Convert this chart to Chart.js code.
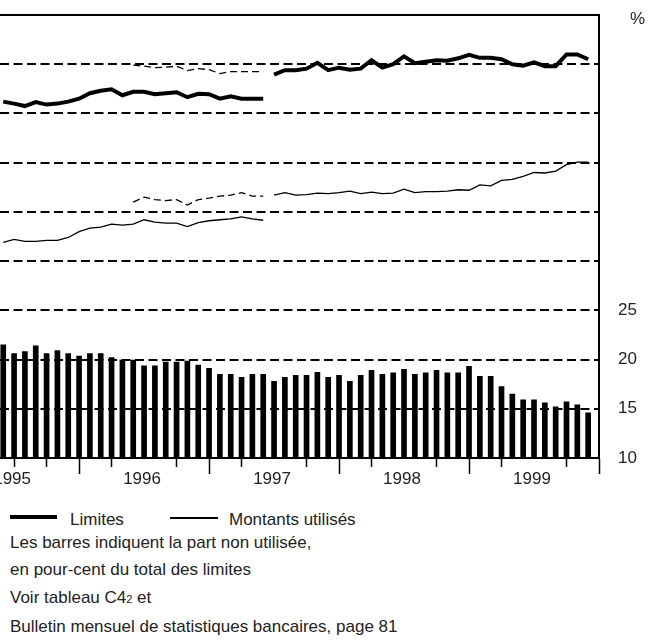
<!DOCTYPE html>
<html>
<head>
<meta charset="utf-8">
<script src="https://cdn.jsdelivr.net/npm/chart.js@4.4.1/dist/chart.umd.min.js"></script>
<style>
  body { margin: 0; background: #fff; font-family: "Liberation Sans", Arial, sans-serif; color: #222; }
  #page { position: relative; width: 664px; height: 642px; overflow: hidden; }
  #wrap { position: absolute; left: 0; top: 0; width: 664px; height: 490px; overflow: hidden; }
  #chart { position: absolute; left: -40px; top: 0; }
  .txt { position: absolute; font-size: 17px; line-height: 20px; white-space: nowrap; }
  .key { position: absolute; background: #000; }
</style>
</head>
<body>
<div id="page">
  <div id="wrap"><canvas id="chart" width="704" height="490"></canvas></div>
  <div class="txt" style="left:630px; top:9px;">%</div>
  <div class="key" style="left:10px; top:515px; width:47px; height:4px;"></div>
  <div class="txt" style="left:70px; top:510px;">Limites</div>
  <div class="key" style="left:170px; top:517px; width:48px; height:1.5px;"></div>
  <div class="txt" style="left:229px; top:510px;">Montants utilisés</div>
  <div class="txt" style="left:10px; top:533px;">Les barres indiquent la part non utilisée,</div>
  <div class="txt" style="left:10px; top:560px;">en pour-cent du total des limites</div>
  <div class="txt" style="left:10px; top:588px;">Voir tableau C4<span style="font-size:11px">2</span> et</div>
  <div class="txt" style="left:10px; top:617px;">Bulletin mensuel de statistiques bancaires, page 81</div>
</div>
<script>
// x values are month indexes: 0 = January 1995, 12 = January 1996 ... 60 = January 2000
const xMin = 4.7;
const xMax = 60;
const quarterTicks = [6, 9, 12, 15, 18, 21, 24, 27, 30, 33, 36, 39, 42, 45, 48, 51, 54, 57, 60];
const yearTickMonths = [6, 18, 30, 42, 54];
const yearNames = ['1995', '1996', '1997', '1998', '1999'];

// right axis, unused part in % of total limits
const shareTicks = [10, 15, 20, 25, 30, 35, 40, 45, 50, 55];
const shareTickLabels = ['10', '15', '20', '25', '', '', '', '', '', ''];

// bars, monthly from month 5
const unusedStart = 5;
const unusedShare = [21.5, 20.6, 20.8, 21.4, 20.6, 20.9, 20.6, 20.35, 20.6, 20.6,
  20.2, 19.95, 19.95, 19.35, 19.35, 19.75, 19.75, 19.85, 19.45, 19.1,
  18.5, 18.5, 18.2, 18.5, 18.5, 17.8, 18.2, 18.4, 18.4, 18.7,
  18.2, 18.4, 17.8, 18.4, 18.9, 18.5, 18.65, 19.0, 18.5, 18.65,
  18.9, 18.65, 18.65, 19.3, 18.3, 18.3, 17.25, 16.5, 15.9, 15.9,
  15.6, 15.2, 15.7, 15.4, 14.6];

// lines, left axis (cut off in the original)
const oldStart = 5;
const limitesOld = [72.4, 72.0, 71.5, 72.3, 71.8, 72.0, 72.4, 73.0, 74.1, 74.6, 74.9, 73.7, 74.4,
  74.4, 73.9, 74.1, 74.3, 73.3, 74.0, 73.9, 73.0, 73.5, 73.0, 73.0, 73.0];
const montantsOld = [43.8, 44.4, 44.0, 44.0, 44.2, 44.2, 44.8, 46.0, 46.7, 46.9, 47.5, 47.3, 47.5,
  48.4, 47.9, 47.7, 47.7, 47.0, 47.8, 48.2, 48.4, 48.6, 49.0, 48.6, 48.3];

const overlapStart = 17;
const limitesOverlap = [79.8, 79.6, 79.3, 79.4, 79.6, 78.7, 79.1, 78.9, 78.1, 78.5, 78.5, 78.5, 78.5];
const montantsOverlap = [52.0, 53.0, 52.5, 52.3, 52.5, 51.4, 52.5, 52.8, 53.2, 53.4, 53.9, 53.2, 53.2];

const newStart = 30;
const limitesNew = [77.9, 78.8, 78.8, 79.1, 80.3, 78.8, 79.3, 78.9, 79.1, 80.8,
  79.3, 80.0, 81.6, 80.2, 80.5, 80.8, 80.7, 81.2, 81.9, 81.3,
  81.3, 81.0, 80.0, 79.7, 80.4, 79.6, 79.6, 82.0, 82.0, 81.0];
const montantsNew = [53.4, 53.9, 53.4, 53.5, 53.8, 53.7, 53.9, 54.2, 53.7, 54.0,
  53.7, 53.8, 54.6, 53.9, 54.1, 54.1, 54.2, 54.5, 54.4, 55.5,
  55.3, 56.4, 56.6, 57.2, 58.0, 57.9, 58.3, 59.6, 60.1, 60.1];

function points(start, values) {
  return values.map((v, i) => ({ x: start + i, y: v }));
}

function lineSet(start, values, width, dash) {
  return {
    type: 'line',
    data: points(start, values),
    yAxisID: 'yL',
    borderColor: '#000',
    borderWidth: width,
    borderDash: dash,
    pointRadius: 0,
    tension: 0,
    fill: false,
  };
}

// solid frame line along the top of the plot
const topFrame = {
  id: 'topFrame',
  afterDraw(chart) {
    const { ctx, chartArea } = chart;
    ctx.save();
    ctx.setLineDash([]);
    ctx.strokeStyle = '#000';
    ctx.lineWidth = 2;
    ctx.beginPath();
    ctx.moveTo(chartArea.left, chartArea.top);
    ctx.lineTo(chartArea.right + 1, chartArea.top);
    ctx.stroke();
    ctx.restore();
  },
};

const labelFont = { family: '"Liberation Sans", Arial, sans-serif', size: 17 };

new Chart(document.getElementById('chart'), {
  type: 'bar',
  data: {
    datasets: [
      {
        type: 'bar',
        data: points(unusedStart, unusedShare),
        yAxisID: 'y',
        backgroundColor: '#000',
        borderWidth: 0,
        barThickness: 5,
      },
      lineSet(oldStart, limitesOld, 4, []),
      lineSet(overlapStart, limitesOverlap, 1.3, [7, 4]),
      lineSet(newStart, limitesNew, 4, []),
      lineSet(oldStart, montantsOld, 1.3, []),
      lineSet(overlapStart, montantsOverlap, 1.3, [7, 4]),
      lineSet(newStart, montantsNew, 1.3, []),
    ],
  },
  plugins: [topFrame],
  options: {
    responsive: false,
    maintainAspectRatio: false,
    animation: false,
    layout: { padding: { left: 40, top: 15, right: 0, bottom: 0 } },
    plugins: { legend: { display: false }, tooltip: { enabled: false } },
    scales: {
      x: {
        type: 'linear',
        position: 'bottom',
        min: xMin,
        max: xMax,
        offset: false,
        afterBuildTicks: (scale) => { scale.ticks = quarterTicks.map((v) => ({ value: v })); },
        afterFit: (scale) => { scale.height = 32; },
        grid: {
          offset: false,
          drawOnChartArea: false,
          drawTicks: true,
          tickLength: 16,
          tickWidth: 1.5,
          tickColor: (ctx) => (ctx.tick && ctx.tick.value % 12 === 6 && ctx.tick.value > 6 ? 'rgba(0,0,0,0)' : '#000'),
          tickBorderDash: (ctx) => (ctx.tick && ctx.tick.value % 12 === 0 ? [] : [8, 40]),
        },
        border: { display: true, color: '#000', width: 2 },
        ticks: {
          autoSkip: false,
          maxRotation: 0,
          padding: -5,
          labelOffset: -2,
          color: '#222',
          font: labelFont,
          callback: (value) => {
            const i = yearTickMonths.indexOf(value);
            return i >= 0 ? yearNames[i] : '';
          },
        },
      },
      y: {
        type: 'linear',
        position: 'right',
        min: 10,
        max: 55,
        afterBuildTicks: (scale) => { scale.ticks = shareTicks.map((v) => ({ value: v })); },
        afterFit: (scale) => {
          scale.width = 65;
          scale.paddingTop = 0;
          scale.paddingBottom = 0;
        },
        grid: { color: '#000', lineWidth: 2, drawTicks: false },
        border: { display: true, color: '#000', width: 2, dash: [9, 4.5] },
        ticks: {
          padding: 19,
          color: '#222',
          font: labelFont,
          callback: (value, index) => shareTickLabels[index],
        },
      },
      // axis of the lines, its labels are cut off in the original
      yL: {
        type: 'linear',
        display: false,
        min: 0,
        max: 90,
      },
    },
  },
});
</script>
</body>
</html>
